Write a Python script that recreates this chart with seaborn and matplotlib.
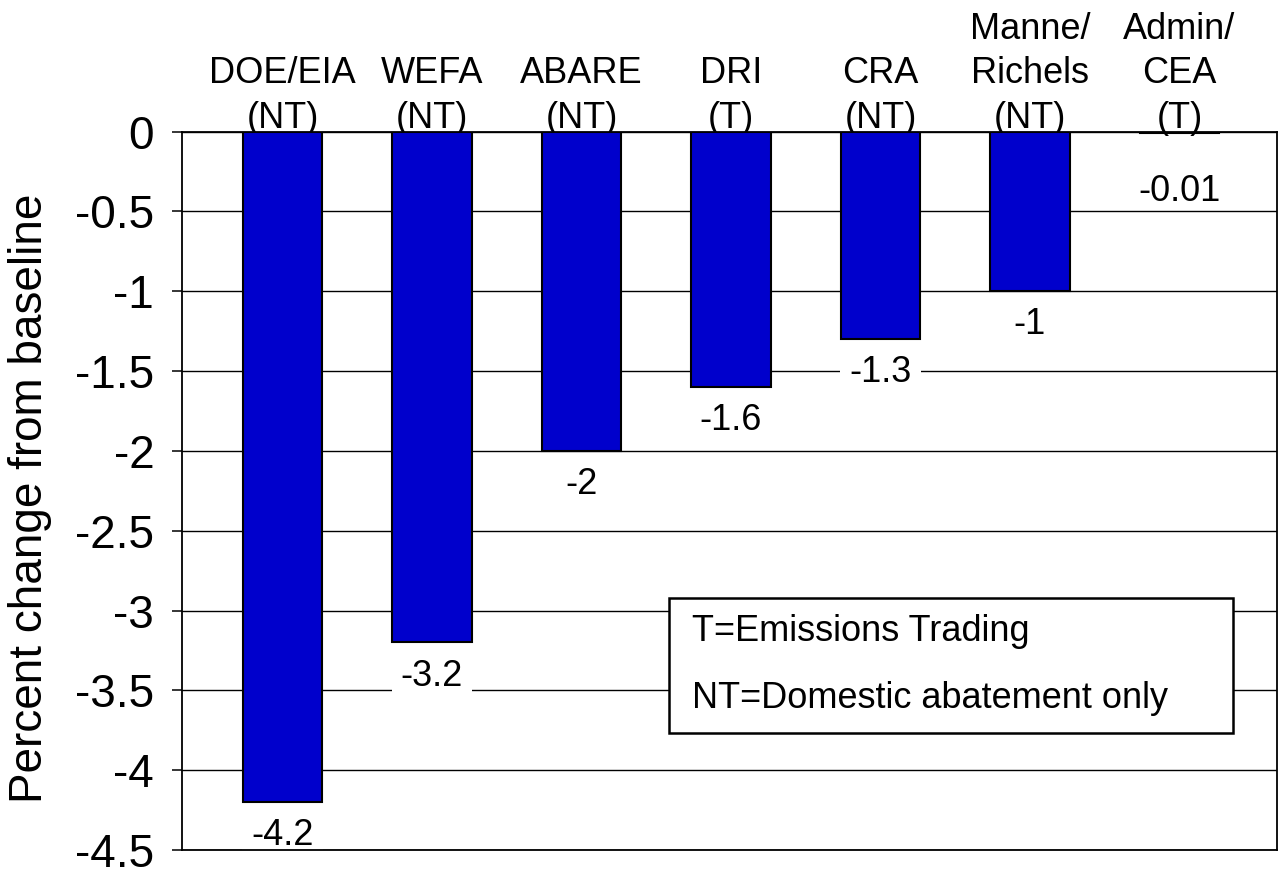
import numpy as np
import pandas as pd
import matplotlib
matplotlib.use("Agg")
import matplotlib.pyplot as plt
import seaborn as sns
from matplotlib.patches import Rectangle

# ── data ─────────────────────────────────────────────────────
models = ["DOE/EIA\n(NT)", "WEFA\n(NT)", "ABARE\n(NT)", "DRI\n(T)",
          "CRA\n(NT)", "Manne/\nRichels\n(NT)", "Admin/\nCEA\n(T)"]
pct_change = [-4.2, -3.2, -2.0, -1.6, -1.3, -1.0, -0.01]
value_labels = ["-4.2", "-3.2", "-2", "-1.6", "-1.3", "-1", "-0.01"]
y_ticks = [0, -0.5, -1, -1.5, -2, -2.5, -3, -3.5, -4, -4.5]
y_ticklabels = ["0", "-0.5", "-1", "-1.5", "-2", "-2.5", "-3", "-3.5", "-4", "-4.5"]
legend_lines = ["T=Emissions Trading", "NT=Domestic abatement only"]

df = pd.DataFrame({"model": models, "change": pct_change})

# ── style ────────────────────────────────────────────────────
sns.set_style("white")
plt.rcParams["font.family"] = ["Liberation Sans", "DejaVu Sans"]
plt.rcParams["text.color"] = "black"
plt.rcParams["axes.labelcolor"] = "black"

BAR_BLUE = "#0000CC"

fig = plt.figure(figsize=(12.78, 8.69), dpi=100)
ax = fig.add_axes([0.1424, 0.0219, 0.8568, 0.8266])

sns.barplot(data=df, x="model", y="change", color=BAR_BLUE, saturation=1,
            width=0.53, edgecolor="black", linewidth=1.5, errorbar=None,
            ax=ax, zorder=1)

ax.set_xlim(-0.672, 6.652)
ax.set_ylim(-4.5, 0)

# gridlines
ax.set_axisbelow(True)
ax.yaxis.grid(True, color="black", linewidth=1.0)
ax.xaxis.grid(False)

for side in ["left", "right", "top", "bottom"]:
    ax.spines[side].set_visible(True)
    ax.spines[side].set_color("black")
    ax.spines[side].set_linewidth(1.3)

# y axis
ax.set_yticks(y_ticks)
ax.set_yticklabels(y_ticklabels)
ax.tick_params(axis="y", length=7, width=1.1, pad=13, labelsize=33,
               colors="black", left=True)
ax.set_ylabel("Percent change from baseline", fontsize=33, color="black")
ax.yaxis.set_label_coords(-0.119, 0.49)

# x axis: category labels sit on top of the zero line
ax.xaxis.tick_top()
ax.tick_params(axis="x", length=0, pad=-3, labelsize=26, colors="black")
for t in ax.get_xticklabels():
    t.set_linespacing(1.35)
ax.set_xlabel("")

# value labels under the bars (white backing where they cross a gridline)
for i, (v, lab) in enumerate(zip(pct_change, value_labels)):
    small = abs(v) < 0.1
    gap = 49 if small else 31
    box = None if small else dict(boxstyle="square,pad=0.25", fc="white", ec="none")
    ax.annotate(lab, xy=(i, v), xytext=(0, -gap), textcoords="offset points",
                ha="center", va="baseline", fontsize=26, color="black",
                bbox=box, zorder=2)

# explanation box
ax.add_patch(Rectangle((0.4447, 0.1625), 0.5153, 0.188, transform=ax.transAxes,
                       facecolor="white", edgecolor="black", linewidth=1.8,
                       zorder=4))
ax.text(0.4658, 0.3035, legend_lines[0], transform=ax.transAxes, fontsize=26,
        ha="left", va="center", color="black", zorder=5)
ax.text(0.4658, 0.2103, legend_lines[1], transform=ax.transAxes, fontsize=26,
        ha="left", va="center", color="black", zorder=5)

fig.savefig("out.png", dpi=100)
